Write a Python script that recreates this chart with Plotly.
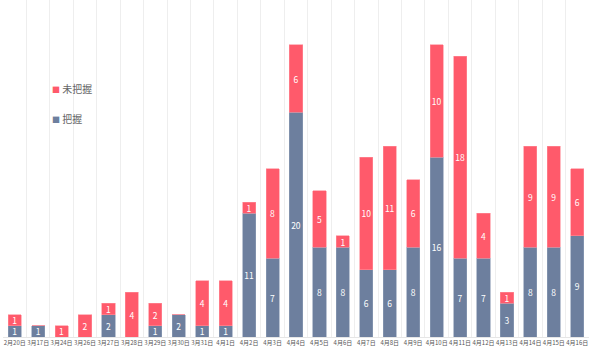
import plotly.graph_objects as go

categories = ["2月20日", "3月17日", "3月24日", "3月26日", "3月27日", "3月28日", "3月29日", "3月30日",
              "3月31日", "4月1日", "4月2日", "4月3日", "4月4日", "4月5日", "4月6日", "4月7日",
              "4月8日", "4月9日", "4月10日", "4月11日", "4月12日", "4月13日", "4月14日", "4月15日", "4月16日"]
grasped = [1, 1, 0, 0, 2, 0, 1, 2, 1, 1, 11, 7, 20, 8, 8, 6, 6, 8, 16, 7, 7, 3, 8, 8, 9]
ungrasped = [1, 0, 1, 2, 1, 4, 2, 0, 4, 4, 1, 8, 6, 5, 1, 10, 11, 6, 10, 18, 4, 1, 9, 9, 6]
series_names = ["把握", "未把握"]

BLUE = "#6D7F9E"
RED = "#FF5A6B"

def labels(vals):
    return [str(v) if v else "" for v in vals]

fig = go.Figure()
fig.add_trace(go.Bar(
    x=categories, y=grasped, name=series_names[0], showlegend=False,
    marker=dict(color=BLUE, line=dict(color="#8E9DB6", width=0.6)),
    text=labels(grasped), textposition="inside", insidetextanchor="middle", textangle=0,
    constraintext="none",
    textfont=dict(color="white", size=8.5, family="Noto Sans CJK SC"),
))
fig.add_trace(go.Bar(
    x=categories, y=ungrasped, name=series_names[1], showlegend=False,
    marker=dict(color=RED, line=dict(color="#FF8C98", width=0.6)),
    text=labels(ungrasped), textposition="inside", insidetextanchor="middle", textangle=0,
    constraintext="none",
    textfont=dict(color="white", size=8.5, family="Noto Sans CJK SC"),
))

# legend drawn as text annotations (coloured square + name)
for nm, col, ypos in [(series_names[1], RED, 88), (series_names[0], BLUE, 118)]:
    fig.add_annotation(
        xref="paper", yref="paper", x=(50 - 3) / 586, y=1 - ypos / 337,
        xanchor="left", yanchor="middle", showarrow=False,
        text=f"<span style='color:{col};font-size:8px'>■</span> {nm}",
        font=dict(size=10, color="#666", family="Noto Sans CJK SC"),
    )

fig.update_layout(
    barmode="stack", bargap=0.44,
    width=600, height=352,
    margin=dict(l=3, r=11, t=0, b=15),
    paper_bgcolor="white", plot_bgcolor="white",
    showlegend=False,
    uniformtext=dict(mode="show", minsize=8),
    font=dict(family="Noto Sans CJK SC"),
)
fig.update_xaxes(
    tickson="boundaries", showgrid=True, gridcolor="#EEEEEE", gridwidth=1,
    tickfont=dict(size=6, color="#555"), ticks="", showline=True, linecolor="#E6E6E6",
    tickangle=0, type="category",
)
fig.update_yaxes(range=[0, 30], showgrid=False, showticklabels=False, zeroline=False)
fig.write_html("out.html")
